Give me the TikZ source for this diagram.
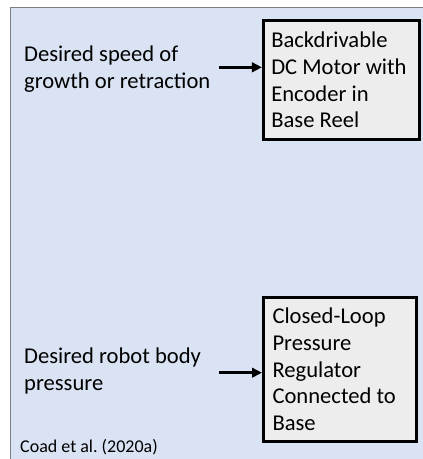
\documentclass[tikz,border=0pt]{standalone}
\usepackage{fontspec}
\setmainfont{Carlito}
\frenchspacing
\usetikzlibrary{arrows.meta,shadows}
\definecolor{bgblue}{HTML}{DAE3F3}
\definecolor{boxgray}{HTML}{EDEDED}
\definecolor{rimgray}{HTML}{7F7F7F}
\begin{document}
\begin{tikzpicture}[x=1pt,y=-1pt,
  lbl/.style={font=\fontsize{22.6}{26.7}\selectfont, align=left, inner sep=0pt, anchor=base west},
  cite/.style={font=\fontsize{18}{21}\selectfont, inner sep=0pt, anchor=base west},
  blk/.style={draw=black, line width=3pt, fill=boxgray,
    drop shadow={shadow xshift=1.5pt, shadow yshift=-1.5pt, fill=black, opacity=0.25},
    font=\fontsize{22.6}{26.7}\selectfont, align=flush left, inner xsep=9pt, inner ysep=0pt},
  arr/.style={-{Triangle[length=10pt,width=9.5pt]}, line width=3pt}]
\clip (0,0) rectangle (423,459);
\useasboundingbox (0,0) rectangle (423,459);
\path[fill=bgblue, draw=rimgray, line width=1pt] (10.5,7.5) rectangle (440,480);

\node[lbl] (t1) at (24,88.3) {Desired speed of\\growth or retraction};
\node[lbl] (t2) at (24,390) {Desired robot body\\pressure};
\node[cite] (c) at (20,452) {Coad et al. (2020a)};

\node[blk, text width=145pt, inner xsep=5.35pt, minimum height=118.7pt] (m1) at (341.3,79.9)
  {\hspace*{2.5pt}Backdrivable\\\hspace*{2.5pt}DC Motor with\\\hspace*{2.5pt}Encoder in\\\hspace*{2.5pt}Base Reel};
\node[blk, text width=135pt, minimum height=144pt] (m2) at (340,369.5)
  {Closed-Loop\\Pressure\\Regulator\\Connected to\\Base};

\coordinate (a1) at (219.3,67.3);
\coordinate (a2) at (219.3,372.7);
\draw[arr] (a1) -- (a1 -| m1.west);
\draw[arr] (a2) -- (a2 -| m2.west);
\end{tikzpicture}
\end{document}
